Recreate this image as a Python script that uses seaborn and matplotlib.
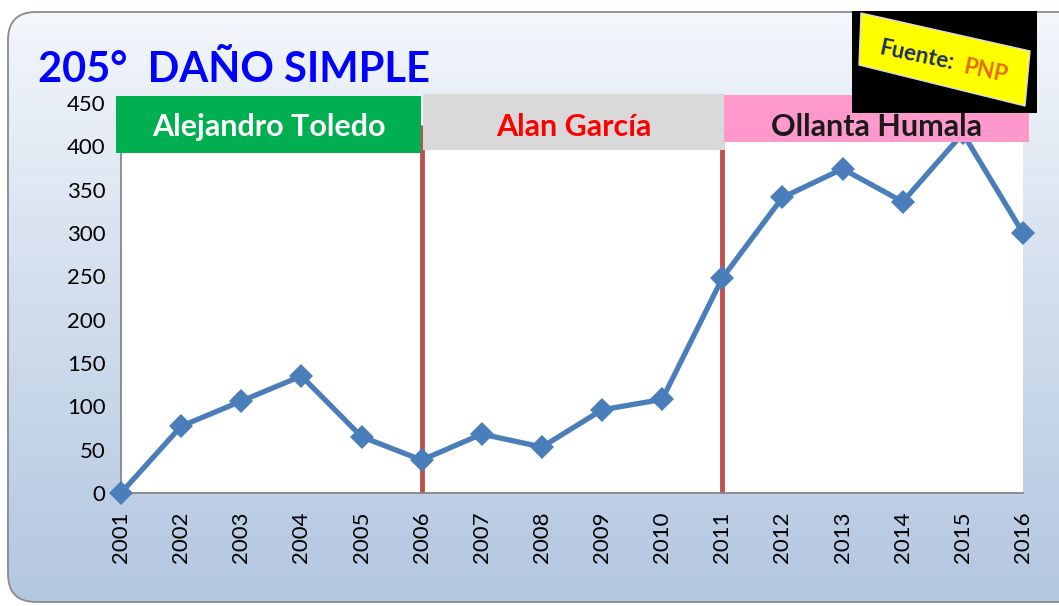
import numpy as np
import pandas as pd
import matplotlib
matplotlib.use("Agg")
import matplotlib.pyplot as plt
import seaborn as sns
from matplotlib.patches import FancyBboxPatch, Rectangle, Polygon

years = [2001, 2002, 2003, 2004, 2005, 2006, 2007, 2008, 2009, 2010, 2011, 2012, 2013, 2014, 2015, 2016]
values = [0, 77, 106, 135, 65, 38, 68, 53, 96, 108, 248, 341, 374, 336, 415, 300]
yticks = [0, 50, 100, 150, 200, 250, 300, 350, 400, 450]
gov_changes = [2006, 2011]
title = "205°  DAÑO SIMPLE"
presidents = ["Alejandro Toledo", "Alan García", "Ollanta Humala"]

sns.set_theme(style="white")
plt.rcParams['font.family'] = ['Lato', 'DejaVu Sans']

W, H = 1059, 606
fig = plt.figure(figsize=(W / 100, H / 100), dpi=100)

# background with gradient rounded panel
bg = fig.add_axes([0, 0, 1, 1], zorder=-10)
bg.set_xlim(0, W)
bg.set_ylim(H, 0)
bg.axis("off")
grad = np.linspace(0, 1, 256).reshape(-1, 1)
top = np.array([0.965, 0.975, 0.99])
bot = np.array([0.70, 0.78, 0.88])
img = top + (bot - top) * grad[..., None] ** 0.9
img = img.reshape(256, 1, 3)
im = bg.imshow(img, extent=(0, W, H, 0), aspect="auto")
panel = FancyBboxPatch((8, 12), 1120, 590, boxstyle="round,pad=0,rounding_size=28",
                       facecolor="none", edgecolor="#8a8a8a", linewidth=1.3)
bg.add_patch(panel)
im.set_clip_path(panel)


def fx(x):
    return x / W


def fy(y):
    return 1 - y / H


ax = fig.add_axes([fx(121), fy(493), fx(1023) - fx(121), fy(103) - fy(493)])
ax.set_facecolor("white")
df = pd.DataFrame({"year": years, "value": values})
for g in gov_changes:
    ax.plot([g, g], [0, 425], color="#c0504d", linewidth=3.5, zorder=2, solid_capstyle="butt")
sns.lineplot(data=df, x="year", y="value", ax=ax, color="#4a7ebb", linewidth=3.8,
             marker="D", markersize=12, markeredgewidth=0, zorder=3, clip_on=False)
ax.set_xlim(2001, 2016)
ax.set_ylim(0, 450)
ax.set_xticks(years)
ax.set_xticklabels([str(y) for y in years], rotation=90, fontsize=16)
ax.set_yticks(yticks)
ax.set_yticklabels([str(v) for v in yticks], fontsize=16)
ax.set_xlabel("")
ax.set_ylabel("")
for s in ["top", "right"]:
    ax.spines[s].set_visible(False)
for s in ["left", "bottom"]:
    ax.spines[s].set_color("#868686")
    ax.spines[s].set_linewidth(1.3)
ax.tick_params(axis="both", which="both", length=7, width=1.3, color="#868686",
               direction="out", pad=4, labelcolor="black")
ax.tick_params(axis="x", pad=6)

# title
fig.text(fx(38), fy(70), title, color="#0000ff", fontsize=30, fontweight="bold",
         ha="left", va="center")

# president boxes
boxes = [
    (116, 96, 421, 153, "#00b050", "white", presidents[0]),
    (423, 94, 725, 150, "#d9d9d9", "#ff0000", presidents[1]),
    (724, 95, 1029, 142, "#ff99cc", "#1a1a1a", presidents[2]),
]
for x0, y0, x1, y1, fc, tc, name in boxes:
    fig.patches.append(Rectangle((fx(x0), fy(y1)), fx(x1) - fx(x0), fy(y0) - fy(y1),
                                 transform=fig.transFigure, facecolor=fc, edgecolor="none", zorder=5))
    fig.text(fx((x0 + x1) / 2), fy(127), name, color=tc, fontsize=22, fontweight="bold",
             ha="center", va="center", zorder=6)

# source badge
fig.patches.append(Rectangle((fx(852), fy(113)), fx(1037) - fx(852), fy(11) - fy(113),
                             transform=fig.transFigure, facecolor="black", edgecolor="none", zorder=7))
poly = [(861, 13), (1030, 51), (1025, 106), (859, 65)]
fig.patches.append(Polygon([(fx(x), fy(y)) for x, y in poly], closed=True,
                           transform=fig.transFigure, facecolor="#ffff00",
                           edgecolor="#d8d8e8", linewidth=1, zorder=8))
fig.text(fx(917), fy(56), "Fuente:", color="#1f2d5c", fontsize=16, fontweight="bold",
         rotation=-12, ha="center", va="center", zorder=9, rotation_mode="anchor")
fig.text(fx(985), fy(71), "PNP", color="#e46c0a", fontsize=16, fontweight="bold",
         rotation=-12, ha="center", va="center", zorder=9, rotation_mode="anchor")

fig.savefig("out.png", dpi=100)
